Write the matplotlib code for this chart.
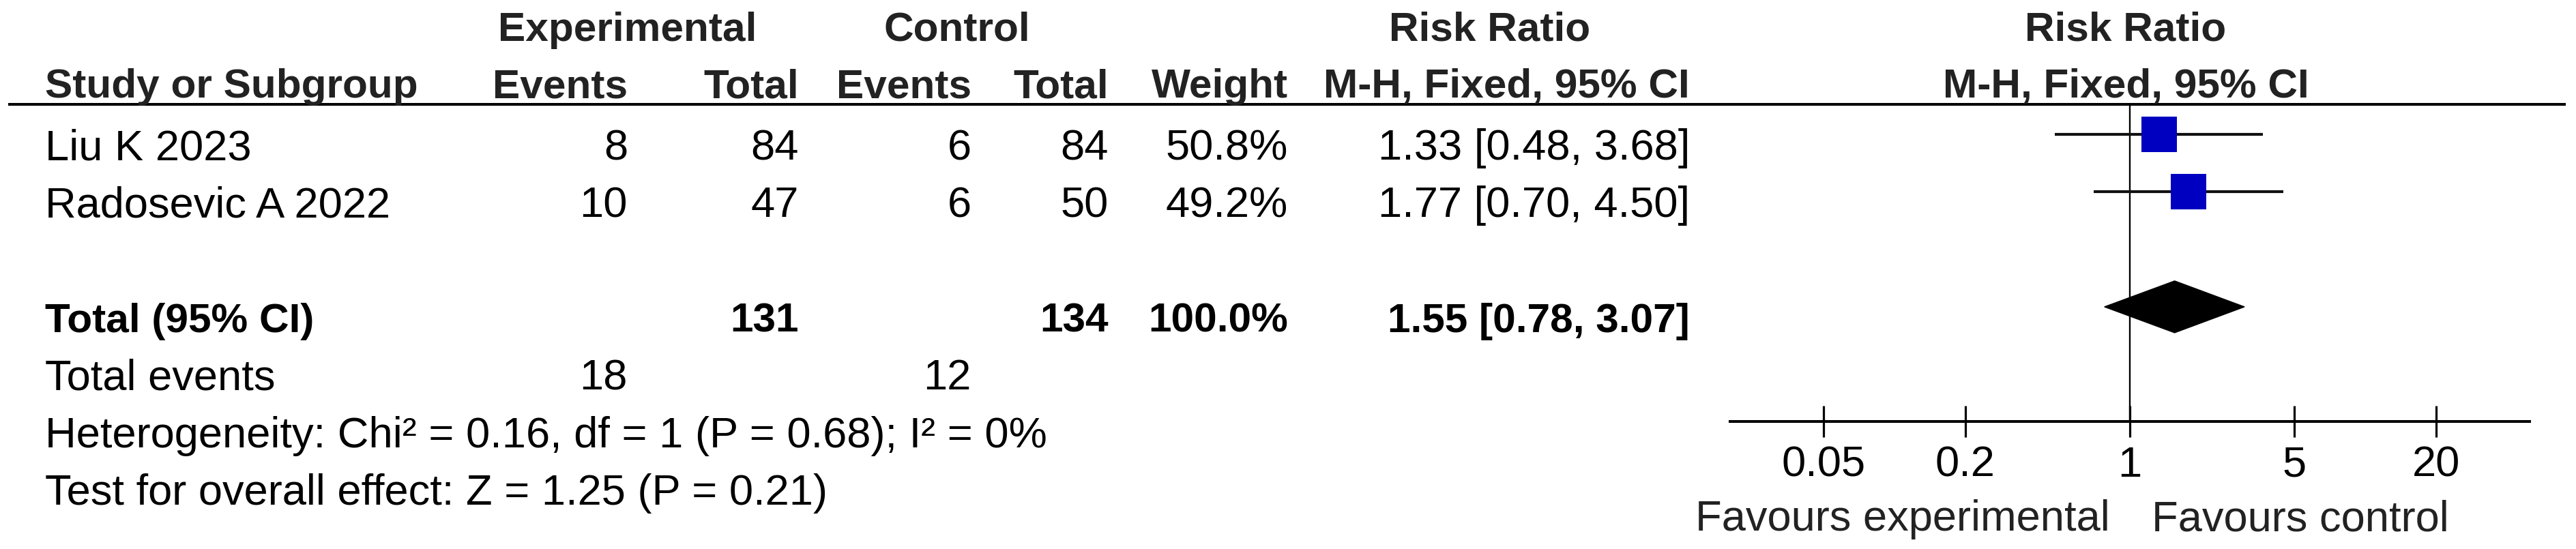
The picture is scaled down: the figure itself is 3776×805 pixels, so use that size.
import matplotlib
matplotlib.use("Agg")
import matplotlib.pyplot as plt
import numpy as np

# ---------------- data ----------------
studies = ["Liu K 2023", "Radosevic A 2022"]
exp_events = [8, 10]
exp_total = [84, 47]
ctrl_events = [6, 6]
ctrl_total = [84, 50]
weights = [50.8, 49.2]
rr = [1.33, 1.77]
ci_lo = [0.48, 0.70]
ci_hi = [3.68, 4.50]

total_label = "Total (95% CI)"
total_exp = 131
total_ctrl = 134
total_weight = 100.0
total_rr = 1.55
total_lo = 0.78
total_hi = 3.07
total_events_exp = 18
total_events_ctrl = 12
het_text = "Heterogeneity: Chi\u00b2 = 0.16, df = 1 (P = 0.68); I\u00b2 = 0%"
overall_text = "Test for overall effect: Z = 1.25 (P = 0.21)"

tick_values = [0.05, 0.2, 1, 5, 20]
tick_labels = ["0.05", "0.2", "1", "5", "20"]
x_range = (0.02, 50)
favours_left = "Favours experimental"
favours_right = "Favours control"

# ---------------- layout ----------------
W, H, DPI = 3776, 805, 100
FONT = "Liberation Sans"
FS = 45.5
FSB = 43.5
plt.rcParams["font.family"] = [FONT, "DejaVu Sans"]

fig = plt.figure(figsize=(W / DPI, H / DPI), dpi=DPI)
tx = fig.add_axes([0, 0, 1, 1])
tx.set_xlim(0, W)
tx.set_ylim(H, 0)
tx.axis("off")

# column right edges (pixels)
c_exp_ev, c_exp_tot, c_ctl_ev, c_ctl_tot, c_wt, c_rr = 920, 1171, 1424, 1625, 1888, 2477
left_x = 66
plot_center = 3120

hdr1_y, hdr2_y = 60, 143
row0_y, pitch = 234, 84.3
marker_offset = 37

def T(x, y, s, ha="left", bold=False, color="black"):
    tx.text(x, y, s, ha=ha, va="baseline", fontsize=FSB if bold else FS,
            fontweight="bold" if bold else "normal", color=color)

hc = "#222222"
# header row 1
T(920, hdr1_y, "Experimental", ha="center", bold=True, color=hc)
T(1403, hdr1_y, "Control", ha="center", bold=True, color=hc)
T(2184, hdr1_y, "Risk Ratio", ha="center", bold=True, color=hc)
T(plot_center - 4, hdr1_y, "Risk Ratio", ha="center", bold=True, color=hc)
# header row 2
T(left_x, hdr2_y, "Study or Subgroup", bold=True, color=hc)
T(c_exp_ev, hdr2_y, "Events", ha="right", bold=True, color=hc)
T(c_exp_tot, hdr2_y, "Total", ha="right", bold=True, color=hc)
T(c_ctl_ev, hdr2_y, "Events", ha="right", bold=True, color=hc)
T(c_ctl_tot, hdr2_y, "Total", ha="right", bold=True, color=hc)
T(c_wt, hdr2_y, "Weight", ha="right", bold=True, color=hc)
T(c_rr, hdr2_y, "M-H, Fixed, 95% CI", ha="right", bold=True, color=hc)
T(plot_center - 4, hdr2_y, "M-H, Fixed, 95% CI", ha="center", bold=True, color=hc)

# header rule
tx.plot([12, 3761], [153, 153], color="black", lw=2.9, solid_capstyle="butt")

# study rows
for i, s in enumerate(studies):
    y = row0_y + pitch * i
    T(left_x, y, s)
    T(c_exp_ev, y, str(exp_events[i]), ha="right")
    T(c_exp_tot, y, str(exp_total[i]), ha="right")
    T(c_ctl_ev, y, str(ctrl_events[i]), ha="right")
    T(c_ctl_tot, y, str(ctrl_total[i]), ha="right")
    T(c_wt, y, f"{weights[i]:.1f}%", ha="right")
    T(c_rr, y, f"{rr[i]:.2f} [{ci_lo[i]:.2f}, {ci_hi[i]:.2f}]", ha="right")

n = len(studies)
y_tot = row0_y + pitch * (n + 1)
T(left_x, y_tot, total_label, bold=True)
T(c_exp_tot, y_tot, str(total_exp), ha="right", bold=True)
T(c_ctl_tot, y_tot, str(total_ctrl), ha="right", bold=True)
T(c_wt, y_tot, f"{total_weight:.1f}%", ha="right", bold=True)
T(c_rr, y_tot, f"{total_rr:.2f} [{total_lo:.2f}, {total_hi:.2f}]", ha="right", bold=True)

y_ev = row0_y + pitch * (n + 2)
T(left_x, y_ev, "Total events")
T(c_exp_ev, y_ev, str(total_events_exp), ha="right")
T(c_ctl_ev, y_ev, str(total_events_ctrl), ha="right")
T(left_x, row0_y + pitch * (n + 3), het_text)
T(left_x, row0_y + pitch * (n + 4), overall_text)

T(plot_center - 27, 778, favours_left, ha="right", color="#222222")
T(plot_center + 34, 778, favours_right, ha="left", color="#222222")

# ---------------- forest plot ----------------
ax_top, ax_bot = 153, 618
ax_l, ax_r = 2536, 3708
fx = fig.add_axes([ax_l / W, (H - ax_bot) / H, (ax_r - ax_l) / W, (ax_bot - ax_top) / H])
fx.set_xscale("log")
fx.set_xlim(*x_range)
fx.set_ylim(ax_bot, ax_top)
fx.patch.set_alpha(0)
for sp in ["top", "left", "right"]:
    fx.spines[sp].set_visible(False)
fx.spines["bottom"].set_linewidth(2.9)
fx.set_yticks([])
fx.set_xticks(tick_values)
fx.set_xticklabels(tick_labels)
fx.xaxis.set_minor_locator(matplotlib.ticker.NullLocator())
fx.tick_params(axis="x", direction="inout", length=33, width=2.3, pad=8.5,
               labelsize=FS, colors="black")

fx.axvline(1, color="black", lw=1.7, zorder=1)

for i in range(n):
    yc = row0_y + pitch * i - marker_offset
    fx.plot([ci_lo[i], ci_hi[i]], [yc, yc], color="#111111", lw=3.0, zorder=2,
            solid_capstyle="butt")
    ms = 37.5 * np.sqrt(weights[i] / 50.0)
    fx.plot([rr[i]], [yc], marker="s", ms=ms, color="#0000c0",
            markeredgewidth=0, zorder=3, clip_on=False)

yd = y_tot - marker_offset
hh = 38
fx.fill([total_lo, total_rr, total_hi, total_rr],
        [yd, yd - hh, yd, yd + hh], color="black", zorder=3, clip_on=False)

fig.savefig("out.png", dpi=DPI)
